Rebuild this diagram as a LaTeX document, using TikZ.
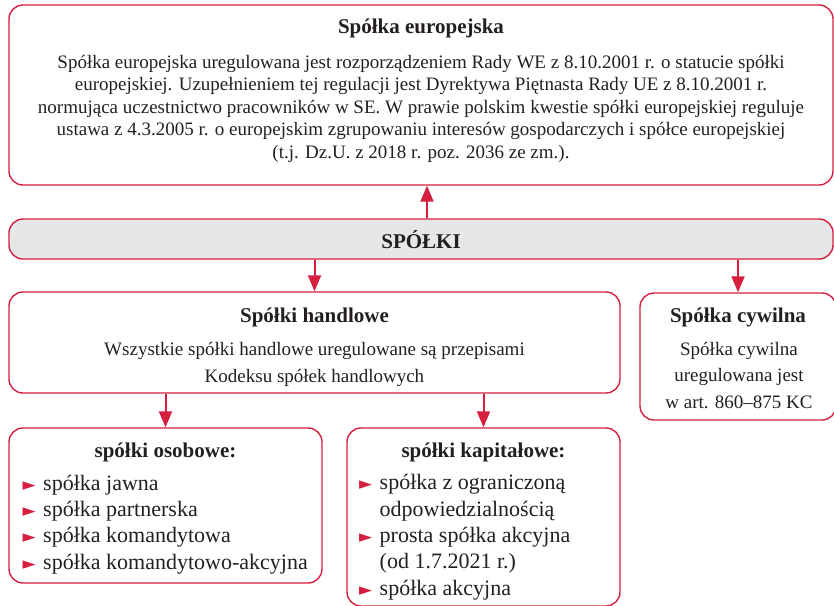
\documentclass[tikz,border=0pt]{standalone}
\usepackage{fontspec}
\setmainfont{Liberation Serif}
\newfontfamily\symfont{DejaVu Sans}
\usetikzlibrary{arrows.meta}
\definecolor{sred}{RGB}{214,30,62}
\definecolor{sgrey}{RGB}{230,231,233}
\definecolor{stext}{RGB}{35,31,32}
\newcommand{\bul}{\makebox[20.5pt][l]{\raisebox{0pt}{\fontsize{17}{17}\selectfont\symfont\textcolor{sred}{►}}}}
\newcommand{\ind}{\hspace*{20.5pt}}
\begin{document}
\begin{tikzpicture}[x=1pt,y=-1pt,
  box/.style={draw=sred, line width=1.4pt, rounded corners=14pt, inner sep=0pt},
  arr/.style={draw=sred, line width=2pt, -{Triangle[width=13pt,length=16pt]}},
  body/.style={text=stext, font=\fontsize{19}{22.5}\selectfont, align=center, inner sep=0pt, anchor=base},
  ttl/.style={text=stext, font=\fontsize{21}{24}\selectfont\bfseries, inner sep=0pt, anchor=base},
  lst/.style={text=stext, font=\fontsize{22}{26.3}\selectfont, align=left, inner sep=0pt, anchor=base west},
]
\useasboundingbox (0,0) rectangle (834,605);
% boxes
\node[box, minimum width=824pt, minimum height=180pt] (eu) at (421,95) {};
\node[box, fill=sgrey, minimum width=824pt, minimum height=40pt] (spolki) at (421,239) {};
\node[box, minimum width=611pt, minimum height=101pt] (handlowe) at (314.5,342.5) {};
\node[box, minimum width=196pt, minimum height=127pt] (cyw) at (738,356.5) {};
\node[box, minimum width=313pt, minimum height=155pt] (osob) at (165.5,505.5) {};
\node[box, minimum width=273pt, minimum height=178pt] (kap) at (483.5,517) {};
% arrows
\draw[arr] ([xshift=6pt]spolki.north) -- ([xshift=6pt]eu.south);
\draw[arr] (spolki.south -| handlowe.north) -- (handlowe.north);
\draw[arr] (spolki.south -| cyw.north) -- (cyw.north);
\draw[arr] (handlowe.south -| osob.north) -- (osob.north);
\draw[arr] (handlowe.south -| kap.north) -- (kap.north);
% texts (multi-line nodes are anchored at the baseline of their last line)
\node[ttl] (eut) at (421,33) {Spółka europejska};
\node[body] (eub) at (421,158) {Spółka europejska uregulowana jest rozporządzeniem Rady WE z 8.10.2001 r. o statucie spółki\\
europejskiej. Uzupełnieniem tej regulacji jest Dyrektywa Piętnasta Rady UE z 8.10.2001 r.\\
normująca uczestnictwo pracowników w SE. W prawie polskim kwestie spółki europejskiej reguluje\\
ustawa z 4.3.2005 r. o europejskim zgrupowaniu interesów gospodarczych i spółce europejskiej\\
(t.j. Dz.U. z 2018 r. poz. 2036 ze zm.).};
\node[ttl] (spt) at (421,248) {SPÓŁKI};
\node[ttl] (hant) at (314.5,322) {Spółki handlowe};
\node[body, font=\fontsize{19}{27}\selectfont] (hanb) at (314.5,382) {Wszystkie spółki handlowe uregulowane są przepisami\\Kodeksu spółek handlowych};
\node[ttl] (cywt) at (738,322) {Spółka cywilna};
\node[body, font=\fontsize{19}{26.5}\selectfont] (cywb) at (739,408) {Spółka cywilna\\uregulowana jest\\w art. 860–875 KC};
\node[ttl] (osobt) at (165.5,457) {spółki osobowe:};
\node[lst] (osobl) at (22.5,569) {\bul spółka jawna\\\bul spółka partnerska\\\bul spółka komandytowa\\\bul spółka komandytowo-akcyjna};
\node[ttl] (kapt) at (483.5,457) {spółki kapitałowe:};
\node[lst] (kapl) at (359,595) {\bul spółka z ograniczoną\\\ind odpowiedzialnością\\\bul prosta spółka akcyjna\\\ind (od 1.7.2021 r.)\\\bul spółka akcyjna};
\end{tikzpicture}
\end{document}
